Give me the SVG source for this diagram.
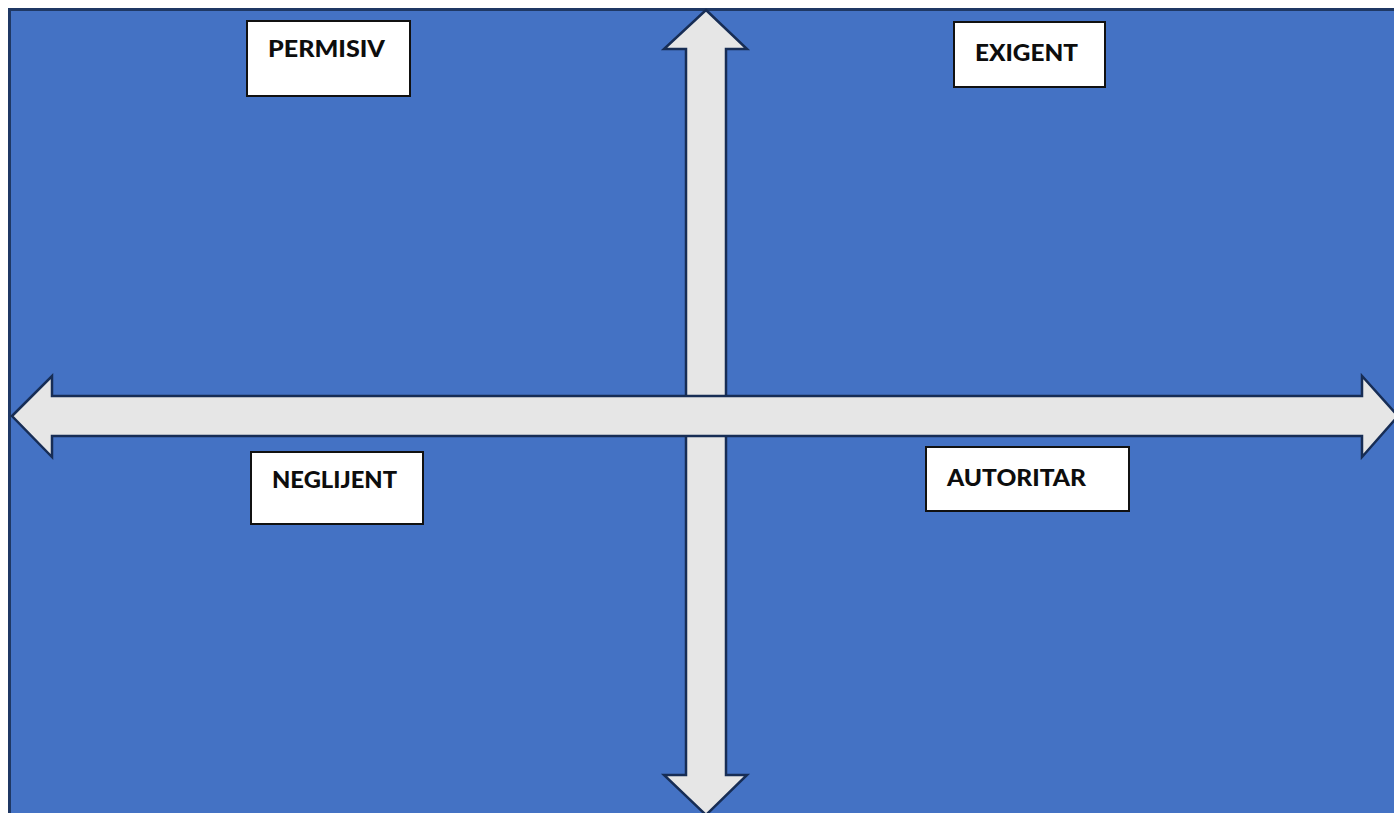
<svg xmlns="http://www.w3.org/2000/svg" width="1394" height="813" viewBox="0 0 1394 813">
<style>
.frame{fill:#4472C4;stroke:#1F3864;stroke-width:3}
.arrow{fill:#E6E6E6;stroke:#172D55;stroke-width:2.5;stroke-linejoin:miter}
.box{fill:#FFFFFF;stroke:#111111;stroke-width:2}
.lbl{font-family:Lato,"Liberation Sans",Arial,sans-serif;font-weight:900;font-size:22px;fill:#0D0D0D}
</style>
<rect width="1394" height="813" fill="#FFFFFF"/>
<rect class="frame" x="9.5" y="9.5" width="1400" height="820"/>
<g id="connectors">
<polygon id="vertical-arrow" class="arrow" points="706,10 747,49 726,49 726,775 747,775 706,815 664,775 686,775 686,49 664,49"/>
<polygon id="horizontal-arrow" class="arrow" points="12,416 52,376 52,396 1362,396 1362,376 1398,416 1362,457 1362,436 52,436 52,457"/>
</g>
<g id="permisiv">
<rect class="box" x="247" y="21" width="163" height="75"/>
<text class="lbl" x="268" y="57" textLength="117" lengthAdjust="spacingAndGlyphs">PERMISIV</text>
</g>
<g id="exigent">
<rect class="box" x="954" y="22" width="151" height="65"/>
<text class="lbl" x="975" y="61" textLength="103" lengthAdjust="spacingAndGlyphs">EXIGENT</text>
</g>
<g id="neglijent">
<rect class="box" x="251" y="452" width="172" height="72"/>
<text class="lbl" x="272" y="488" textLength="125" lengthAdjust="spacingAndGlyphs">NEGLIJENT</text>
</g>
<g id="autoritar">
<rect class="box" x="926" y="447" width="203" height="64"/>
<text class="lbl" x="947" y="486" textLength="139" lengthAdjust="spacingAndGlyphs">AUTORITAR</text>
</g>
</svg>
